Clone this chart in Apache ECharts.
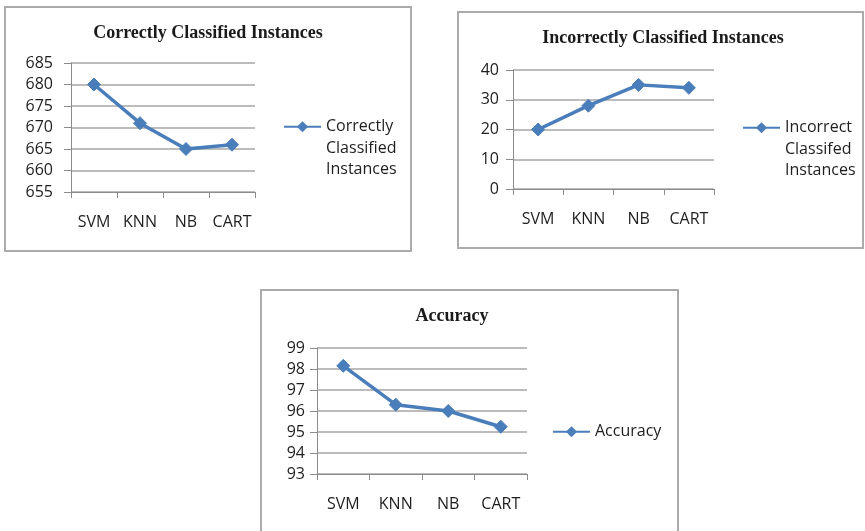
<!DOCTYPE html>
<html>
<head>
<meta charset="utf-8">
<title>Classifier comparison</title>
<script src="https://cdn.jsdelivr.net/npm/echarts@6/dist/echarts.min.js"></script>
<style>
  html, body { margin: 0; padding: 0; background: #ffffff; }
  #chart { width: 865px; height: 531px; }
</style>
</head>
<body>
<div id="chart"></div>
<script>
// Classifiers compared in all three panels
const categories = ['SVM', 'KNN', 'NB', 'CART'];

// Correctly classified instances per classifier
const correctValues = [680, 671, 665, 666];
const correctTicks = { min: 655, max: 685, interval: 5 };

// Incorrectly classified instances per classifier
const incorrectValues = [20, 28, 35, 34];
const incorrectTicks = { min: 0, max: 40, interval: 10 };

// Accuracy (%) per classifier
const accuracyValues = [98.15, 96.3, 96.0, 95.25];
const accuracyTicks = { min: 93, max: 99, interval: 1 };

const LINE = '#4a7ebb';
const AXIS = '#8c8c8c';
const GRID = '#a6a6a6';
const SANS = '"Open Sans", "DejaVu Sans", sans-serif';
const SERIF = '"Liberation Serif", "DejaVu Serif", serif';

const panels = [
  {
    title: 'Correctly Classified Instances',
    name: 'Correctly\nClassified\nInstances',
    values: correctValues, ticks: correctTicks,
    box: [5, 7, 406, 244],
    grid: { left: 71, top: 63, width: 184, height: 129 },
    titleX: 208, titleY: 24,
    legend: { left: 283, top: 73, multi: true },
    yMargin: 18
  },
  {
    title: 'Incorrectly Classified Instances',
    name: 'Incorrect\nClassifed\nInstances',
    values: incorrectValues, ticks: incorrectTicks,
    box: [458, 12, 405, 236],
    grid: { left: 513, top: 70, width: 201, height: 119 },
    titleX: 663, titleY: 29,
    legend: { left: 742, top: 74, multi: true },
    yMargin: 14
  },
  {
    title: 'Accuracy',
    name: 'Accuracy',
    values: accuracyValues, ticks: accuracyTicks,
    box: [261, 290, 417, 250],
    grid: { left: 317, top: 348, width: 210, height: 126 },
    titleX: 452, titleY: 307,
    legend: { left: 552, top: 421, multi: false },
    yMargin: 12
  }
];

const chart = echarts.init(document.getElementById('chart'), null, { renderer: 'canvas' });

const option = {
  backgroundColor: '#ffffff',
  animation: false,
  title: panels.map(p => ({
    text: p.title,
    left: p.titleX,
    top: p.titleY,
    textAlign: 'center',
    padding: 0,
    textStyle: { fontFamily: SERIF, fontWeight: 'bold', fontSize: 18, color: '#1a1a1a' }
  })),
  legend: panels.map(p => ({
    data: [p.name],
    left: p.legend.left,
    top: p.legend.top,
    orient: 'vertical',
    padding: 0,
    itemWidth: 37,
    itemHeight: 14,
    selectedMode: false,
    // two leading blank lines keep the first line of a wrapped name level with the marker
    formatter: name => (p.legend.multi ? '\n\n' + name : name),
    textStyle: { fontFamily: SANS, fontSize: 16, color: '#1e1e1e', lineHeight: 21.5 }
  })),
  grid: panels.map(p => Object.assign({ containLabel: false }, p.grid)),
  xAxis: panels.map((p, i) => ({
    type: 'category',
    gridIndex: i,
    data: categories,
    boundaryGap: true,
    axisLine: { lineStyle: { color: AXIS, width: 1 } },
    axisTick: { show: true, inside: false, length: 6, alignWithLabel: false, lineStyle: { color: AXIS } },
    axisLabel: { interval: 0, margin: 22, fontFamily: SANS, fontSize: 16, color: '#1e1e1e' },
    splitLine: { show: false }
  })),
  yAxis: panels.map((p, i) => ({
    type: 'value',
    gridIndex: i,
    min: p.ticks.min,
    max: p.ticks.max,
    interval: p.ticks.interval,
    axisLine: { show: true, lineStyle: { color: AXIS, width: 1 } },
    axisTick: { show: true, inside: false, length: 7, lineStyle: { color: AXIS } },
    axisLabel: { margin: p.yMargin, fontFamily: SANS, fontSize: 16, color: '#1e1e1e' },
    splitLine: { show: true, lineStyle: { color: GRID, width: 1.5 } }
  })),
  series: panels.map((p, i) => ({
    type: 'line',
    name: p.name,
    xAxisIndex: i,
    yAxisIndex: i,
    data: p.values,
    symbol: 'diamond',
    symbolSize: 13,
    lineStyle: { color: LINE, width: 3.5 },
    itemStyle: { color: LINE, borderColor: LINE },
    emphasis: { disabled: true }
  })),
  graphic: panels.map(p => ({
    type: 'rect',
    shape: { x: p.box[0], y: p.box[1], width: p.box[2], height: p.box[3] },
    style: { fill: 'none', stroke: '#ababab', lineWidth: 2 },
    silent: true,
    z: -1
  }))
};

chart.setOption(option);
</script>
</body>
</html>
